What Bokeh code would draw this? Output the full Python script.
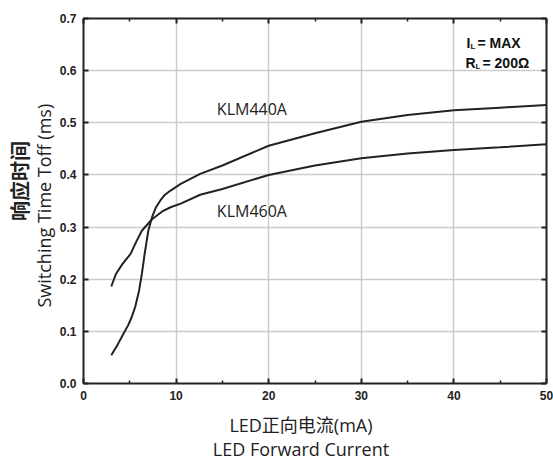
from bokeh.plotting import figure
from bokeh.models import (Range1d, LinearAxis, Label, PrintfTickFormatter, FixedTicker,
                          CustomLabelingPolicy)
from bokeh.embed import file_html
from bokeh.resources import INLINE

# ---- data ----
x_klm440 = [3, 3.7, 4.3, 4.8, 5.2, 5.6, 6.0, 6.3, 6.6, 7.0, 7.4, 7.8, 8.3, 8.8, 9.4, 10.5,
            12.6, 15, 20, 25, 30, 35, 40, 45, 50]
y_klm440 = [0.054, 0.075, 0.095, 0.111, 0.127, 0.148, 0.178, 0.210, 0.248, 0.293, 0.319,
            0.337, 0.351, 0.362, 0.370, 0.383, 0.402, 0.418, 0.456, 0.480, 0.502, 0.515,
            0.524, 0.529, 0.534]
x_klm460 = [3, 3.5, 4.2, 5.1, 5.7, 6.3, 7.4, 8.5, 9.4, 10.5, 12.6, 15, 20, 25, 30, 35, 40, 45, 50]
y_klm460 = [0.186, 0.210, 0.229, 0.249, 0.272, 0.293, 0.315, 0.330, 0.338, 0.345, 0.362,
            0.373, 0.400, 0.418, 0.432, 0.441, 0.448, 0.453, 0.459]
series_names = ["KLM440A", "KLM460A"]
label_pos = [(14.4, 0.527), (14.4, 0.331)]
x_ticks = [0, 10, 20, 30, 40, 50]
y_ticks = [0.0, 0.1, 0.2, 0.3, 0.4, 0.5, 0.6, 0.7]
x_title = "LED正向电流(mA)      \nLED Forward Current      "
y_title_cn = "\u3000\u3000响应时间"
y_title_en = "  Switching Time Toff (ms)"

p = figure(frame_width=463, frame_height=365,
           min_border_left=83, min_border_right=7, min_border_top=18, min_border_bottom=76,
           x_range=Range1d(0, 50), y_range=Range1d(0, 0.7),
           output_backend="svg", toolbar_location=None, tools="")
p.outline_line_color = None
p.background_fill_color = "white"
p.border_fill_color = "white"

AX = "#222222"
HIDE = CustomLabelingPolicy(code="""
try { for (const i of [...indices]) indices.unset(i) } catch (e) {}
return indices
""")


def style_axis(ax):
    ax.axis_line_color = AX
    ax.axis_line_width = 2
    ax.major_tick_line_color = AX
    ax.major_tick_line_width = 2
    ax.major_tick_in = 5
    ax.major_tick_out = 0
    ax.minor_tick_line_color = AX
    ax.minor_tick_line_width = 1.5
    ax.minor_tick_in = 3
    ax.minor_tick_out = 0
    ax.major_label_text_font = "Liberation Sans"
    ax.major_label_text_font_style = "bold"
    ax.major_label_text_font_size = "12px"
    ax.major_label_text_color = "#222222"


style_axis(p.xaxis[0])
style_axis(p.yaxis[0])
p.xaxis[0].ticker = FixedTicker(ticks=x_ticks, minor_ticks=[5, 15, 25, 35, 45])
p.xaxis[0].major_label_standoff = 7
p.yaxis[0].ticker = FixedTicker(ticks=y_ticks)
p.yaxis[0].formatter = PrintfTickFormatter(format="%.1f")
p.yaxis[0].major_label_standoff = 7

FONT = "'Open Sans', 'Noto Sans CJK SC'"
p.xaxis[0].axis_label = x_title
p.xaxis[0].axis_label_text_font = FONT
p.xaxis[0].axis_label_text_font_style = "normal"
p.xaxis[0].axis_label_text_font_size = "18px"
p.xaxis[0].axis_label_text_line_height = 1.0
p.xaxis[0].axis_label_text_color = "#222222"
p.xaxis[0].axis_label_standoff = 10

p.yaxis[0].axis_label = y_title_en
p.yaxis[0].axis_label_text_font = FONT
p.yaxis[0].axis_label_text_font_style = "normal"
p.yaxis[0].axis_label_text_font_size = "18px"
p.yaxis[0].axis_label_text_line_height = 1.0
p.yaxis[0].axis_label_text_color = "#222222"
p.yaxis[0].axis_label_standoff = 1

outer = LinearAxis(ticker=FixedTicker(ticks=[]), axis_line_color=None,
                   major_tick_line_color=None, minor_tick_line_color=None,
                   major_tick_in=0, major_tick_out=0, minor_tick_in=0, minor_tick_out=0,
                   major_label_text_font_size="0px", major_label_standoff=0,
                   major_label_policy=HIDE,
                   axis_label=y_title_cn, axis_label_standoff=-5,
                   axis_label_text_font="'Noto Sans CJK SC'",
                   axis_label_text_font_style="bold",
                   axis_label_text_font_size="20px",
                   axis_label_text_line_height=1.0,
                   axis_label_text_color="#222222")
p.add_layout(outer, "left")

top = LinearAxis(ticker=FixedTicker(ticks=x_ticks, minor_ticks=[5, 15, 25, 35, 45]))
right = LinearAxis(ticker=FixedTicker(ticks=y_ticks))
for ax in [top, right]:
    style_axis(ax)
    ax.major_label_text_font_size = "0px"
    ax.major_label_standoff = 0
    ax.major_label_policy = HIDE
p.add_layout(top, "above")
p.add_layout(right, "right")

p.xgrid.ticker = FixedTicker(ticks=x_ticks)
p.ygrid.ticker = FixedTicker(ticks=y_ticks)
p.grid.grid_line_color = "#cccccc"
p.grid.grid_line_width = 1.5

p.line(x_klm440, y_klm440, line_color="#222222", line_width=2)
p.line(x_klm460, y_klm460, line_color="#222222", line_width=2)

for name, (lx, ly) in zip(series_names, label_pos):
    p.add_layout(Label(x=lx, y=ly, text=name, text_font="Open Sans", text_font_size="16px",
                       text_color="#222222", text_baseline="middle", text_align="left"))

FL, FB = 83, 383  # frame left / bottom in canvas px


def slabel(cx, cy, text, size):
    p.add_layout(Label(x=cx - FL, y=FB - cy, x_units="screen", y_units="screen", text=text,
                       text_font="Liberation Sans", text_font_size=size,
                       text_font_style="bold", text_align="left",
                       text_baseline="alphabetic", text_color="#111111"))


slabel(466, 42, "I", "14px")
slabel(470, 46, "L", "8px")
slabel(477, 42, "= MAX", "14px")
slabel(465, 62, "R", "14px")
slabel(475, 66, "L", "8px")
slabel(482, 62, "= 200Ω", "14px")

open("out.html", "w").write(file_html(p, INLINE))
